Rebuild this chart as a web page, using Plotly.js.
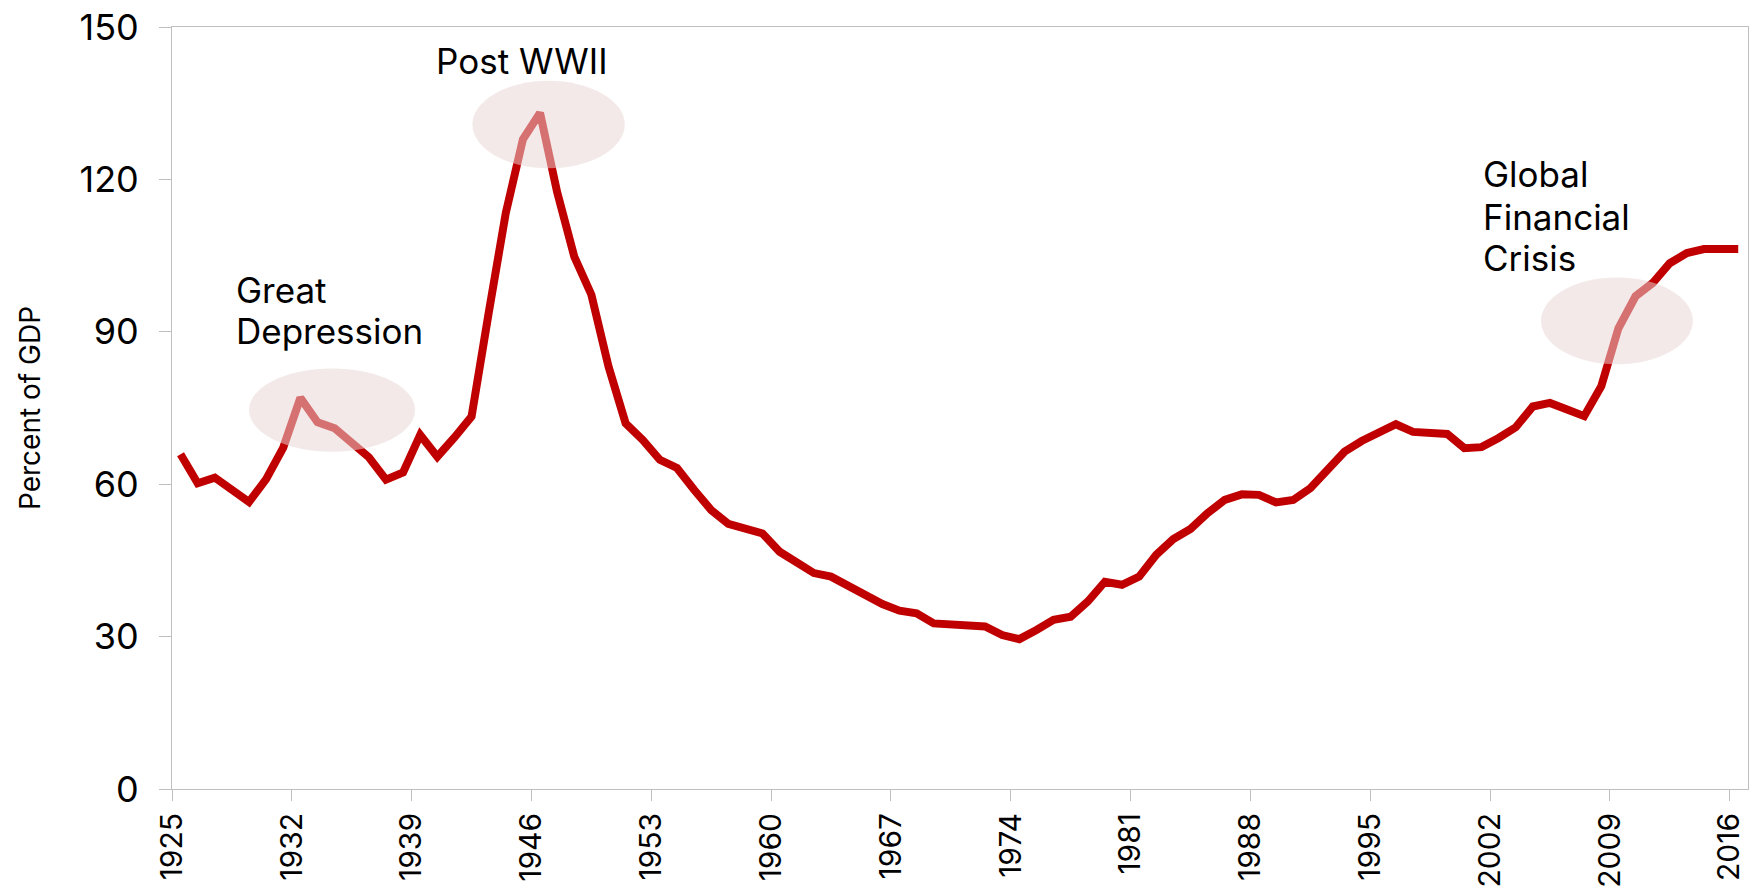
<!DOCTYPE html>
<html>
<head>
<meta charset="utf-8">
<script src="https://cdn.plot.ly/plotly-3.0.1.min.js"></script>
<style>
  html, body { margin: 0; padding: 0; background: #ffffff; }
  #chart { width: 1760px; height: 888px; }
</style>
</head>
<body>
<div id="chart"></div>
<script>
// ---- Data ----
const years = [];
for (let y = 1925; y <= 2016; y++) years.push(y);

const debtPctGDP = [
  // 1925-1934
  65.9, 60.2, 61.3, 58.7, 56.5, 61.0, 67.2, 77.0, 72.2, 71.0,
  // 1935-1944
  68.0, 65.3, 60.9, 62.3, 69.7, 65.4, 69.2, 73.3, 93.7, 113.4,
  // 1945-1954
  127.9, 133.1, 117.5, 104.8, 97.3, 83.2, 72.0, 68.7, 64.8, 63.2,
  // 1955-1964
  58.9, 54.9, 52.2, 51.4, 50.3, 46.7, 44.4, 42.5, 41.8, 40.0,
  // 1965-1974
  37.9, 36.4, 35.1, 34.6, 32.6, 32.3, 32.1, 32.0, 30.3, 29.5,
  // 1975-1984
  31.3, 33.3, 33.9, 36.9, 40.8, 40.2, 41.8, 46.1, 49.2, 51.2,
  // 1985-1994
  54.3, 56.9, 58.0, 57.9, 56.4, 56.9, 59.2, 62.8, 66.4, 68.5,
  // 1995-2004
  70.2, 71.8, 70.3, 70.2, 69.9, 67.1, 67.3, 69.1, 71.2, 75.3,
  // 2005-2014
  76.0, 74.7, 73.4, 79.3, 90.7, 97.0, 99.6, 103.5, 105.5, 106.3,
  // 2015-2016
  106.2, 106.3
];

const xTickYears = [1925, 1932, 1939, 1946, 1953, 1960, 1967, 1974, 1981, 1988, 1995, 2002, 2009, 2016];
const yTickValues = [0, 30, 60, 90, 120, 150];

// annotation text lines and their anchor points (data units)
const annotationLines = ["Great", "Depression", "Post WWII", "Global", "Financial", "Crisis"];
const annotationX = [1928.65, 1928.65, 1940.3, 2001.5, 2001.5, 2001.5];
const annotationY = [98.3, 90.1, 143.3, 121.1, 112.6, 104.6];

// highlight ellipses: [x0, x1, y0, y1] in data units
const ellipseX0 = [1929.5, 1942.55, 2004.98];
const ellipseX1 = [1939.2, 1951.45, 2013.85];
const ellipseY0 = [66.4, 122.2, 83.6];
const ellipseY1 = [82.8, 139.4, 100.7];

// ---- Chart ----
const FONT = "Inter, 'Liberation Sans', Arial, sans-serif";

const trace = {
  type: 'scatter',
  mode: 'lines',
  x: years.map(y => y + 0.5),   // categories centred between year ticks
  y: debtPctGDP,
  line: { color: '#C00000', width: 8 },
  hoverinfo: 'x+y',
  showlegend: false
};

const shapes = ellipseX0.map((x0, i) => ({
  type: 'circle',
  xref: 'x', yref: 'y',
  x0: x0, x1: ellipseX1[i],
  y0: ellipseY0[i], y1: ellipseY1[i],
  fillcolor: 'rgb(234,213,213)',
  opacity: 0.53,
  line: { width: 0 },
  layer: 'above'
}));

const annotations = annotationLines.map((t, i) => ({
  text: t,
  xref: 'x', yref: 'y',
  x: annotationX[i], y: annotationY[i],
  xanchor: 'left', yanchor: 'middle',
  align: 'left',
  showarrow: false,
  font: { family: FONT, size: 35, color: '#000000' }
}));

const layout = {
  width: 1760,
  height: 888,
  margin: { l: 172, r: 12, t: 27, b: 99, pad: 0 },
  paper_bgcolor: '#ffffff',
  plot_bgcolor: '#ffffff',
  font: { family: FONT, color: '#000000' },
  xaxis: {
    range: [1925, 2017.07],
    tickmode: 'array',
    tickvals: xTickYears,
    ticktext: xTickYears.map(String),
    tickangle: -90,
    ticks: 'outside',
    ticklen: 11,
    tickwidth: 1,
    tickcolor: '#BFBFBF',
    ticklabelstandoff: 0,
    tickfont: { family: FONT, size: 30, color: '#000000' },
    showgrid: false,
    zeroline: false,
    showline: true,
    linecolor: '#BFBFBF',
    linewidth: 1,
    mirror: true,
    automargin: false,
    fixedrange: true
  },
  yaxis: {
    range: [0, 150],
    tickmode: 'array',
    tickvals: yTickValues,
    ticktext: yTickValues.map(String),
    ticks: 'outside',
    ticklen: 12,
    tickwidth: 1,
    tickcolor: '#BFBFBF',
    ticklabelstandoff: 13,
    tickfont: { family: FONT, size: 36, color: '#000000' },
    showgrid: false,
    zeroline: false,
    showline: true,
    linecolor: '#BFBFBF',
    linewidth: 1,
    mirror: true,
    automargin: false,
    fixedrange: true,
    title: {
      text: 'Percent of GDP',
      font: { family: FONT, size: 28, color: '#000000' },
      standoff: 30
    }
  },
  shapes: shapes,
  annotations: annotations,
  showlegend: false
};

Plotly.newPlot('chart', [trace], layout, { displayModeBar: false, staticPlot: true });
</script>
</body>
</html>
